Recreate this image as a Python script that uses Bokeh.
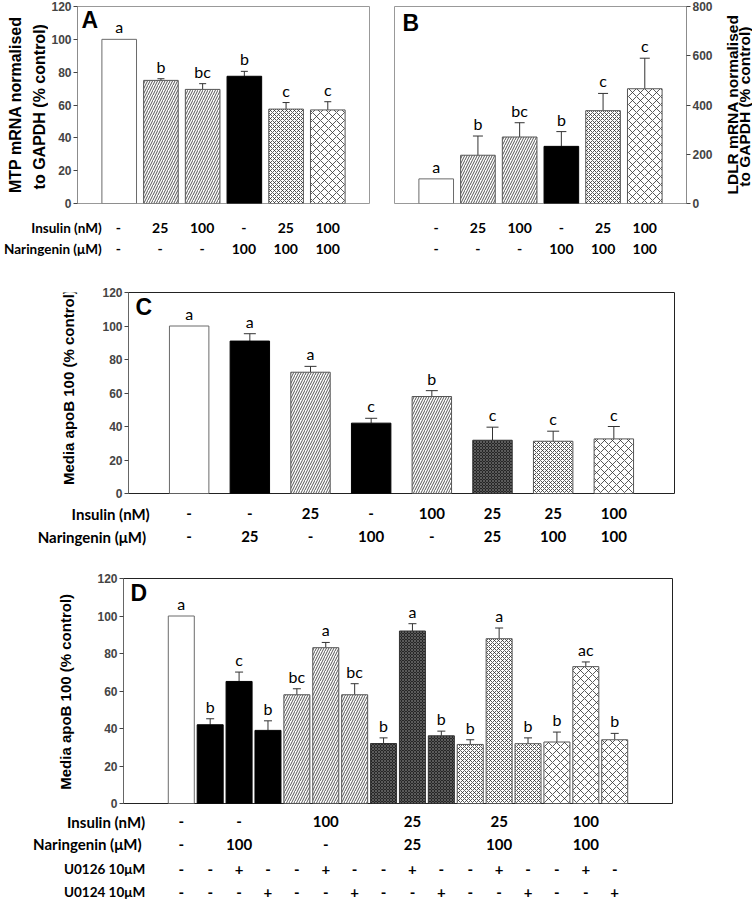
import math
from bokeh.plotting import figure
from bokeh.models import (ColumnDataSource, Whisker, TeeHead, FixedTicker, Range1d)
from bokeh.layouts import column, row
from bokeh.core.properties import value
from bokeh.embed import file_html
from bokeh.resources import INLINE

# ---------------- data ----------------
# Panel A : MTP mRNA
a_insulin = ["-", "25", "100", "-", "25", "100"]
a_naringenin = ["-", "-", "-", "100", "100", "100"]
a_mean = [100, 75, 69.5, 77.5, 57.5, 57]
a_upper = [100, 76, 73, 80.5, 61.5, 62]
a_letters = ["a", "b", "bc", "b", "c", "c"]

# Panel B : LDLR mRNA
b_insulin = ["-", "25", "100", "-", "25", "100"]
b_naringenin = ["-", "-", "-", "100", "100", "100"]
b_mean = [100, 196, 270, 232, 377, 466]
b_upper = [100, 274, 328, 292, 447, 590]
b_letters = ["a", "b", "bc", "b", "c", "c"]

# Panel C : media apoB100
c_insulin = ["-", "-", "25", "-", "100", "25", "25", "100"]
c_naringenin = ["-", "25", "-", "100", "-", "25", "100", "100"]
c_mean = [100, 91, 72.4, 42, 57.9, 31.8, 31.2, 32.6]
c_upper = [100, 95.4, 75.9, 44.9, 61.4, 39.6, 37.2, 40]
c_letters = ["a", "a", "a", "c", "b", "c", "c", "c"]

# Panel D : media apoB100 with MEK inhibitors
d_group_insulin = ["-", "-", "100", "25", "25", "100"]
d_group_naringenin = ["-", "100", "-", "25", "100", "100"]
d_group_size = [1, 3, 3, 3, 3, 3]
d_u0126 = ["-", "-", "+", "-", "-", "+", "-", "-", "+", "-", "-", "+", "-", "-", "+", "-"]
d_u0124 = ["-", "-", "-", "+", "-", "-", "+", "-", "-", "+", "-", "-", "+", "-", "-", "+"]
d_mean = [100, 42, 65.1, 39, 58, 83.1, 58, 32, 92, 36.1, 31.5, 87.9, 31.9, 32.8, 73, 34]
d_upper = [100, 45.2, 70.1, 44.1, 61.2, 85.9, 63.9, 35, 95.9, 38.6, 34, 93.6, 35, 38.1, 75.5, 37.4]
d_letters = ["a", "b", "c", "b", "bc", "a", "bc", "b", "a", "b", "b", "a", "b", "b", "ac", "b"]

row_ins = "Insulin (nM)"
row_nar_a = "Naringenin (\u03bcM)"
row_nar_c = "Naringenin  (\u03bcM)"
row_u6 = "U0126 10\u03bcM"
row_u4 = "U0124 10\u03bcM"
a_ylabel = ["MTP mRNA normalised", "to GAPDH  (% control)"]
b_ylabel = ["LDLR mRNA normalised", "to GAPDH  (% control)"]
cd_ylabel = ["Media apoB 100 (% control)"]

# ---------------- styles ----------------
STYLES = {
    "white":  dict(fill="white",   line="#6a6a6a", hatch=" ", hcolor="black",   hscale=6, hweight=1.0),
    "black":  dict(fill="black",   line="black",   hatch=" ", hcolor="black",   hscale=6, hweight=1.0),
    "diag":   dict(fill="white",   line="#555555", hatch="/", hcolor="#2a2a2a", hscale=5, hweight=0.8),
    "dark":   dict(fill="#262626", line="#333333", hatch="x", hcolor="#808080", hscale=3, hweight=0.6),
    "fine":   dict(fill="white",   line="#555555", hatch="x", hcolor="#303030", hscale=4, hweight=0.8),
    "coarse": dict(fill="white",   line="#555555", hatch="x", hcolor="#303030", hscale=8, hweight=0.8),
}


def style_key(ins, nar):
    if ins == "-" and nar == "-":
        return "white"
    if ins == "-":
        return "black"
    if nar == "-":
        return "diag"
    if nar == "25":
        return "dark"
    if ins == "25":
        return "fine"
    return "coarse"


AX_FONT = "Liberation Sans"
TXT_FONT = "Lato"


def make_chart(width, height, bl, br, bt, bb, xr, yr, ticks, yside="left",
               outline="#999999", axis_color="#8c8c8c"):
    p = figure(width=width, height=height, min_border_left=bl, min_border_right=br,
               min_border_top=bt, min_border_bottom=bb,
               x_range=Range1d(*xr), y_range=Range1d(*yr),
               output_backend="svg", toolbar_location=None,
               x_axis_location=None, y_axis_location=yside)
    p.grid.visible = False
    p.outline_line_color = outline
    p.outline_line_width = 1
    p.background_fill_color = "white"
    p.border_fill_color = "white"
    ax = p.yaxis[0]
    ax.ticker = FixedTicker(ticks=ticks)
    ax.major_tick_out = 4
    ax.major_tick_in = 0
    ax.minor_tick_line_color = None
    ax.major_tick_line_color = "#444444"
    ax.axis_line_color = axis_color
    ax.major_label_text_font = AX_FONT
    ax.major_label_text_font_style = "bold"
    ax.major_label_text_font_size = "12px"
    ax.major_label_standoff = 2
    return p


def blank_fig(width, height, xr, yr):
    p = figure(width=width, height=height, min_border=0, min_border_left=0,
               min_border_right=0, min_border_top=0, min_border_bottom=0,
               x_range=Range1d(*xr), y_range=Range1d(*yr),
               output_backend="svg", toolbar_location=None,
               x_axis_location=None, y_axis_location=None)
    p.grid.visible = False
    p.outline_line_color = None
    p.background_fill_color = "white"
    p.border_fill_color = "white"
    return p


def draw_bars(p, xs, mean, upper, letters, styles, width, cap):
    st = [STYLES[s] for s in styles]
    src = ColumnDataSource(dict(
        x=xs, top=mean,
        fill=[s["fill"] for s in st], line=[s["line"] for s in st],
        hatch=[s["hatch"] for s in st], hcolor=[s["hcolor"] for s in st],
        hscale=[s["hscale"] for s in st], hweight=[s["hweight"] for s in st]))
    p.vbar(x="x", top="top", bottom=0, width=width, source=src,
           fill_color="fill", line_color="line", line_width=1,
           hatch_pattern="hatch", hatch_color="hcolor", hatch_scale="hscale",
           hatch_weight="hweight")
    ex, el, eu = [], [], []
    for x, m, u in zip(xs, mean, upper):
        if u > m:
            ex.append(x); el.append(m); eu.append(u)
    esrc = ColumnDataSource(dict(x=ex, lower=el, upper=eu))
    p.add_layout(Whisker(source=esrc, base="x", lower="lower", upper="upper",
                         dimension="height", line_color="#333333", line_width=1,
                         upper_head=TeeHead(size=cap, line_color="#333333", line_width=1),
                         lower_head=None))
    tsrc = ColumnDataSource(dict(x=xs, y=[max(m, u) for m, u in zip(mean, upper)], t=letters))
    p.text(x="x", y="y", text="t", source=tsrc, text_align="center",
           text_baseline="bottom", y_offset=-3, text_font=value(TXT_FONT),
           text_font_size="16px", text_color="black")


def panel_letter(p, letter, dx, dy):
    src = ColumnDataSource(dict(x=[p.x_range.start], y=[p.y_range.end], t=[letter]))
    p.text(x="x", y="y", text="t", source=src, x_offset=dx, y_offset=dy,
           text_align="left", text_baseline="top", text_font=value(AX_FONT),
           text_font_style="bold", text_font_size="23px", text_color="black")


def table_fig(width, height, frame_offset, frame_w, xr):
    # a strip below a chart whose x scale continues the chart's x scale
    upp = (xr[1] - xr[0]) / frame_w
    x0 = xr[0] - frame_offset * upp
    return blank_fig(width, height, (x0, x0 + width * upp), (height, 0))


def add_row(p, xs, y, texts, size, align="center"):
    src = ColumnDataSource(dict(x=xs, y=[y] * len(xs), t=texts))
    p.text(x="x", y="y", text="t", source=src, text_align=align,
           text_baseline="middle", text_font=value(TXT_FONT), text_font_style="bold",
           text_font_size=size, text_color="black")


def vlabel_fig(width, height, xs, yc, lines, size):
    p = blank_fig(width, height, (0, width), (height, 0))
    src = ColumnDataSource(dict(x=xs, y=[yc] * len(xs), t=lines))
    p.text(x="x", y="y", text="t", source=src, angle=math.pi / 2, text_align="center",
           text_baseline="middle", text_font=value(AX_FONT), text_font_style="bold",
           text_font_size=size, text_color="black")
    return p


# ---------------- panel A ----------------
CH_BT, CH_FH, CH_BB = 6, 197, 7
CH_H = CH_BT + CH_FH + CH_BB
TB_AB = 50
A_LW = 48
A_W, A_BL, A_BR = 332, 28, 11
A_FW = A_W - A_BL - A_BR
pA = make_chart(A_W, CH_H, A_BL, A_BR, CH_BT, CH_BB, (0, 7), (0, 120), list(range(0, 121, 20)))
xa = list(range(1, len(a_mean) + 1))
draw_bars(pA, xa, a_mean, a_upper, a_letters,
          [style_key(i, n) for i, n in zip(a_insulin, a_naringenin)], 0.83, 7)
panel_letter(pA, "A", 4, 0)
lA = vlabel_fig(A_LW, CH_H, [14.5, 38.5], CH_BT + CH_FH / 2, a_ylabel, "16px")
tA = table_fig(A_LW + A_W, TB_AB, A_LW + A_BL, A_FW, (0, 7))
add_row(tA, xa, 17.5, a_insulin, "14px")
add_row(tA, xa, 38.5, a_naringenin, "14px")
add_row(tA, [0.6], 17.5, [row_ins], "13.5px", "right")
add_row(tA, [0.6], 38.5, [row_nar_a], "13.5px", "right")

# ---------------- panel B ----------------
B_LW = 36
B_W, B_BL, B_BR = 336, 14, 30
B_FW = B_W - B_BL - B_BR
pB = make_chart(B_W, CH_H, B_BL, B_BR, CH_BT, CH_BB, (0, 7), (0, 800),
                list(range(0, 801, 200)), yside="right")
xb = list(range(1, len(b_mean) + 1))
draw_bars(pB, xb, b_mean, b_upper, b_letters,
          [style_key(i, n) for i, n in zip(b_insulin, b_naringenin)], 0.83, 10)
panel_letter(pB, "B", 8, 3)
lB = vlabel_fig(B_LW, CH_H, [15.5, 28], CH_BT + CH_FH / 2, b_ylabel, "15.5px")
tB = table_fig(B_W + B_LW, TB_AB, B_BL, B_FW, (0, 7))
add_row(tB, xb, 17.5, b_insulin, "14px")
add_row(tB, xb, 38.5, b_naringenin, "14px")

# ---------------- panel C ----------------
C_LW = 80
C_W, C_BL, C_BR, C_BT, C_FH, C_BB = 672, 48, 78, 32, 201, 7
C_H = C_BT + C_FH + C_BB
C_FW = C_W - C_BL - C_BR
pC = make_chart(C_W, C_H, C_BL, C_BR, C_BT, C_BB, (0, 9), (0, 120), list(range(0, 121, 20)),
                outline="#222222", axis_color="#666666")
xc = list(range(1, len(c_mean) + 1))
draw_bars(pC, xc, c_mean, c_upper, c_letters,
          [style_key(i, n) for i, n in zip(c_insulin, c_naringenin)], 0.65, 12)
panel_letter(pC, "C", 7, 1)
lC = vlabel_fig(C_LW, C_H, [68], 113, cd_ylabel, "15px")
tC = table_fig(C_LW + C_W, 46, C_LW + C_BL, C_FW, (0, 9))
add_row(tC, xc, 13.3, c_insulin, "15px")
add_row(tC, xc, 36, c_naringenin, "15px")
add_row(tC, [0.35], 13.3, [row_ins], "15px", "right")
add_row(tC, [0.35], 36, [row_nar_c], "15px", "right")

# ---------------- panel D ----------------
D_LW = 80
D_W, D_BL, D_BR, D_BT, D_FH, D_BB = 672, 43, 80, 32, 225, 7
D_H = D_BT + D_FH + D_BB
D_FW = D_W - D_BL - D_BR
pD = make_chart(D_W, D_H, D_BL, D_BR, D_BT, D_BB, (-1, 18), (0, 120), list(range(0, 121, 20)),
                outline="#222222", axis_color="#666666")
xd = list(range(1, len(d_mean) + 1))
d_styles, g_centers = [], []
start = 1
for ins, nar, size in zip(d_group_insulin, d_group_naringenin, d_group_size):
    d_styles += [style_key(ins, nar)] * size
    g_centers.append(start + (size - 1) / 2)
    start += size
draw_bars(pD, xd, d_mean, d_upper, d_letters, d_styles, 0.9, 8)
panel_letter(pD, "D", 7, 1)
lD = vlabel_fig(D_LW, D_H, [65], 133, cd_ylabel, "15px")
tD = table_fig(D_LW + D_W, 89, D_LW + D_BL, D_FW, (-1, 18))
add_row(tD, g_centers, 11, d_group_insulin, "15px")
add_row(tD, g_centers, 33.5, d_group_naringenin, "15px")
add_row(tD, xd, 58.5, d_u0126, "15px")
add_row(tD, xd, 81.5, d_u0124, "15px")
add_row(tD, [-0.25], 11, [row_ins], "15px", "right")
add_row(tD, [-0.25], 33.5, [row_nar_c], "15px", "right")
add_row(tD, [-0.25], 58.5, [row_u6], "13.5px", "right")
add_row(tD, [-0.25], 81.5, [row_u4], "13.5px", "right")

layout = column(
    row(column(row(lA, pA), tA), column(row(pB, lB), tB)),
    column(row(lC, pC), tC),
    column(row(lD, pD), tD))
open("out.html", "w").write(file_html(layout, INLINE))
